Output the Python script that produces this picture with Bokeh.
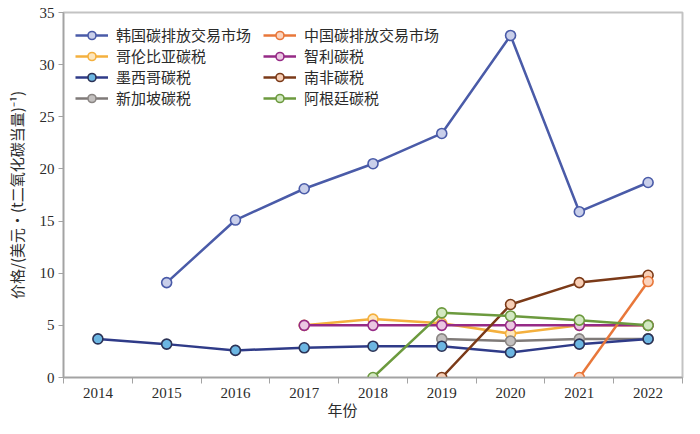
from bokeh.plotting import figure
from bokeh.models import Range1d, FixedTicker, Legend, LegendItem, Title
from bokeh.embed import file_html
from bokeh.resources import INLINE

# ---- data ----
korea_years = [2015, 2016, 2017, 2018, 2019, 2020, 2021, 2022]
korea_vals = [9.1, 15.1, 18.1, 20.5, 23.4, 32.8, 15.9, 18.7]

china_years = [2021, 2022]
china_vals = [0.0, 9.2]

colombia_years = [2017, 2018, 2019, 2020, 2021, 2022]
colombia_vals = [5.0, 5.6, 5.2, 4.2, 5.0, 5.0]

chile_years = [2017, 2018, 2019, 2020, 2021, 2022]
chile_vals = [5.0, 5.0, 5.0, 5.0, 5.0, 5.0]

mexico_years = [2014, 2015, 2016, 2017, 2018, 2019, 2020, 2021, 2022]
mexico_vals = [3.7, 3.2, 2.6, 2.85, 3.0, 3.0, 2.4, 3.2, 3.7]

safrica_years = [2019, 2020, 2021, 2022]
safrica_vals = [0.0, 7.0, 9.1, 9.8]

singapore_years = [2019, 2020, 2021, 2022]
singapore_vals = [3.7, 3.5, 3.7, 3.7]

argentina_years = [2018, 2019, 2020, 2021, 2022]
argentina_vals = [0.0, 6.2, 5.9, 5.5, 5.0]

year_ticks = [2014, 2015, 2016, 2017, 2018, 2019, 2020, 2021, 2022]
y_ticks = [0, 5, 10, 15, 20, 25, 30, 35]

x_title = "年份"
y_title = "价格/(美元•(t二氧化碳当量)⁻¹)"

series = [
    ("韩国碳排放交易市场", korea_years, korea_vals, "#4a5ba8", "#c9cfea", "#4a5ba8"),
    ("中国碳排放交易市场", china_years, china_vals, "#e8773a", "#fbd3bd", "#e8773a"),
    ("哥伦比亚碳税", colombia_years, colombia_vals, "#f4b03e", "#fde6bd", "#f4b03e"),
    ("智利碳税", chile_years, chile_vals, "#962a86", "#ebc6e2", "#962a86"),
    ("墨西哥碳税", mexico_years, mexico_vals, "#2f3b88", "#6cb6e2", "#2b3256"),
    ("南非碳税", safrica_years, safrica_vals, "#7b3a18", "#f8cfb6", "#7b3a18"),
    ("新加坡碳税", singapore_years, singapore_vals, "#7f7a78", "#c3c0bf", "#8a8583"),
    ("阿根廷碳税", argentina_years, argentina_vals, "#6c9a3e", "#d3e8c2", "#6c9a3e"),
]
draw_order = [0, 2, 3, 6, 4, 5, 1, 7]
legend_order = [0, 2, 4, 6, 1, 3, 5, 7]  # legend fills column by column

CJK = "Noto Sans CJK SC"
NUM = "Liberation Serif"
AXIS_GRAY = "#a3a3a3"
TEXT = "#2b2b2b"

p = figure(width=684, height=418, output_backend="svg", toolbar_location=None,
           x_range=Range1d(2013.5, 2022.5), y_range=Range1d(0, 35),
           min_border_left=63, min_border_right=2, min_border_top=12, min_border_bottom=30)

p.xgrid.visible = False
p.ygrid.visible = False
p.outline_line_color = "#c3c3c3"
p.outline_line_width = 2
p.background_fill_color = "white"

renderers = {}
for i in draw_order:
    name, xs, ys, lc, fc, oc = series[i]
    l = p.line(xs, ys, line_color=lc, line_width=2.5)
    c = p.scatter(xs, ys, size=10, fill_color=fc, line_color=oc, line_width=1.6)
    renderers[i] = [l, c]

# x title placed left of centre, as in the original
p.add_layout(Title(text=x_title, align="left", offset=264, standoff=0,
                   text_font="Liberation Serif, Noto Sans CJK SC", text_font_size="15px",
                   text_font_style="normal", text_color=TEXT), "below")

items = [LegendItem(label=series[i][0], renderers=renderers[i]) for i in legend_order]
legend = Legend(items=items, ncols=2, location=(17, 0),
                label_text_font=CJK, label_text_font_size="15px", label_text_color=TEXT,
                glyph_width=33, glyph_height=20, label_height=20, spacing=0,
                label_standoff=8, label_width=147,
                border_line_color=None, background_fill_alpha=0,
                margin=0, padding=0)
p.add_layout(legend, "center")

# x axis
p.xaxis.ticker = FixedTicker(ticks=year_ticks,
                             minor_ticks=[y - 0.5 for y in year_ticks] + [2022.5])
p.xaxis.major_tick_out = 0
p.xaxis.major_tick_in = 0
p.xaxis.minor_tick_out = 6
p.xaxis.minor_tick_in = 0
p.xaxis.minor_tick_line_color = AXIS_GRAY
p.xaxis.axis_line_color = AXIS_GRAY
p.xaxis.axis_line_width = 1.5
p.xaxis.major_label_text_font = NUM
p.xaxis.major_label_text_font_size = "15px"
p.xaxis.major_label_text_color = TEXT
p.xaxis.major_label_standoff = 4

# y axis
p.yaxis.ticker = FixedTicker(ticks=y_ticks)
p.yaxis.major_tick_out = 5
p.yaxis.major_tick_in = 0
p.yaxis.minor_tick_line_color = None
p.yaxis.major_tick_line_color = AXIS_GRAY
p.yaxis.axis_line_color = AXIS_GRAY
p.yaxis.axis_line_width = 1.5
p.yaxis.major_label_text_font = NUM
p.yaxis.major_label_text_font_size = "15px"
p.yaxis.major_label_text_color = TEXT
p.yaxis.major_label_standoff = 4
p.yaxis.axis_label = y_title
p.yaxis.axis_label_text_font = CJK
p.yaxis.axis_label_text_font_style = "normal"
p.yaxis.axis_label_text_font_size = "15px"
p.yaxis.axis_label_text_color = TEXT
p.yaxis.axis_label_standoff = 10

# keep legend 12px below the frame top regardless of final frame height
from bokeh.models import CustomJS  # noqa: F401  (not used; legend placed via top_left below)
legend.location = "top_left"
legend.margin = 12
legend.padding = 0
legend.glyph_width = 33

open("out.html", "w").write(file_html(p, INLINE))
